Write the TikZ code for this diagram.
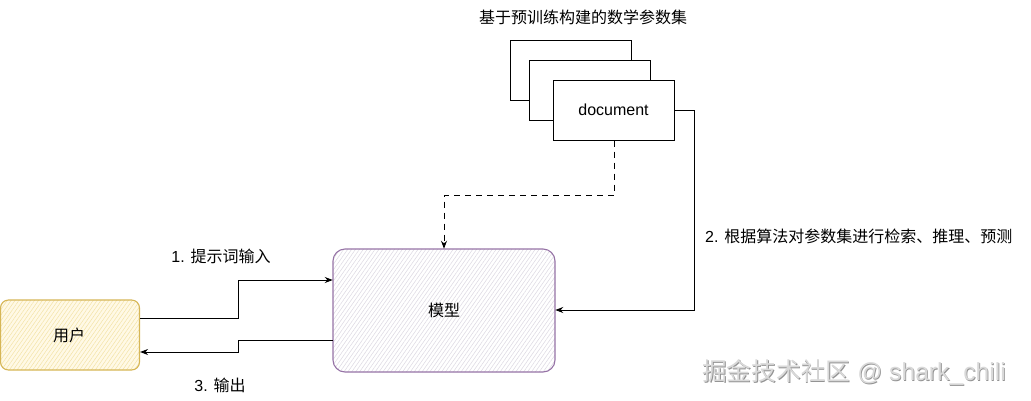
\documentclass[tikz,border=0pt]{standalone}
\usepackage{fontspec}
\setmainfont{Liberation Sans}
\newfontfamily\cjk{Noto Sans CJK SC}
\usetikzlibrary{arrows.meta,patterns.meta}
\definecolor{modelstroke}{HTML}{9673A6}
\definecolor{modelhatch}{HTML}{DCD8E2}
\definecolor{userstroke}{HTML}{D6B656}
\definecolor{userfill}{HTML}{FFF9E6}
\definecolor{userhatch}{HTML}{F3E3A6}
\tikzset{
  docbox/.style={draw=black, fill=white, line width=1pt, minimum width=121pt, minimum height=60pt, inner sep=0pt},
  modelbox/.style={draw=modelstroke, line width=1.1pt, rounded corners=12pt,
    preaction={fill=white},
    pattern={Lines[angle=55,distance=3.2pt,line width=0.5pt]}, pattern color=modelhatch,
    minimum width=222pt, minimum height=123pt, inner sep=0pt},
  userbox/.style={draw=userstroke, line width=1.1pt, rounded corners=8pt,
    preaction={fill=userfill},
    pattern={Lines[angle=55,distance=3.2pt,line width=0.5pt]}, pattern color=userhatch,
    minimum width=139pt, minimum height=70pt, inner sep=0pt},
  conn/.style={draw=black, line width=1pt, -{Stealth[length=8pt,width=6pt]}},
  lbl/.style={font=\fontsize{16pt}{18pt}\selectfont, inner sep=0pt},
  txt/.style={font=\fontsize{16pt}{18pt}\selectfont\cjk, inner sep=0pt},
  wmark/.style={font=\fontsize{24.7pt}{27pt}\selectfont, anchor=west, inner sep=0pt}
}
\begin{document}
\begin{tikzpicture}[x=1pt,y=-1pt]
\useasboundingbox (0,0) rectangle (1031,400);
% document stack
\node[docbox] (doc3) at (571,70) {};
\node[docbox] (doc2) at (590,90) {};
\node[docbox] (doc1) at (613.5,110) {};
\node[lbl] (doctext) at (613.5,110) {document};
\node[txt] (title) at (583,17) {基于预训练构建的数学参数集};
% model
\node[modelbox] (model) at (444,310.5) {};
\node[txt] (modeltext) at (444,310) {模型};
% user
\node[userbox] (user) at (70,335) {};
\node[txt] (usertext) at (69,335) {用户};
% connectors
\coordinate (m1) at (238,318);
\coordinate (m2) at (238,280);
\draw[conn] (user.east |- m1) -- (m1) -- (m2) -- (model.west |- m2);
\coordinate (r1) at (238,340);
\coordinate (r2) at (238,352);
\draw[conn] (model.west |- r1) -- (r1) -- (r2) -- (user.east |- r2);
\coordinate (d1) at (614,195);
\coordinate (d2) at (444,195);
\draw[conn, dashed, dash pattern=on 6pt off 5pt] (doc1.south -| d1) -- (d1) -- (d2) -- (model.north);
\coordinate (a1) at (694,110);
\coordinate (a2) at (694,310);
\draw[conn] (doc1.east) -- (a1) -- (a2) -- (model.east |- a2);
% labels
\node[lbl] (l1) at (221,256) {1. {\cjk 提示词输入}};
\node[lbl] (l3) at (220,385) {3. {\cjk 输出}};
\node[lbl, anchor=west] (l2) at (705,236) {2. {\cjk 根据算法对参数集进行检索、推理、预测}};
% watermark
\node[wmark, text=gray!85] (wmshadow) at (702.8,373) {{\cjk 掘金技术社区} @ shark\_chili};
\node[wmark, text=gray!30] (wm) at (702,372) {{\cjk 掘金技术社区} @ shark\_chili};
\end{tikzpicture}
\end{document}
